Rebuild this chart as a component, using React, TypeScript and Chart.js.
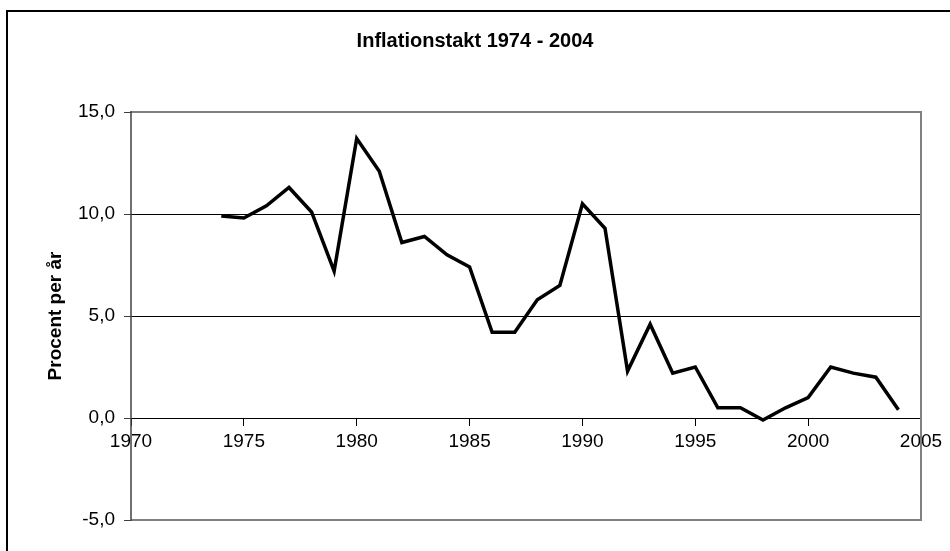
import React, { useEffect, useRef } from "react";
import { Chart, registerables } from "chart.js";

Chart.register(...registerables);

const chartTitle = "Inflationstakt 1974 - 2004";
const yAxisTitle = "Procent per år";
const years = [
  1974, 1975, 1976, 1977, 1978, 1979, 1980, 1981, 1982, 1983, 1984, 1985, 1986,
  1987, 1988, 1989, 1990, 1991, 1992, 1993, 1994, 1995, 1996, 1997, 1998, 1999,
  2000, 2001, 2002, 2003, 2004,
];
const inflation = [
  9.9, 9.8, 10.4, 11.3, 10.1, 7.2, 13.7, 12.1, 8.6, 8.9, 8.0, 7.4, 4.2, 4.2, 5.8,
  6.5, 10.5, 9.3, 2.3, 4.6, 2.2, 2.5, 0.5, 0.5, -0.1, 0.5, 1.0, 2.5, 2.2, 2.0, 0.4,
];
const xMin = 1970;
const xMax = 2005;
const xStep = 5;
const yMin = -5;
const yMax = 15;
const yStep = 5;

const FONT = "'Liberation Sans', Arial, sans-serif";

const framePlugin = {
  id: "frame",
  beforeDraw(chart: any) {
    const ctx = chart.ctx;
    ctx.save();
    ctx.fillStyle = "#ffffff";
    ctx.fillRect(0, 0, chart.width, chart.height);
    ctx.strokeStyle = "#000000";
    ctx.lineWidth = 2;
    ctx.beginPath();
    ctx.moveTo(7, chart.height);
    ctx.lineTo(7, 11);
    ctx.lineTo(chart.width, 11);
    ctx.stroke();
    ctx.restore();
  },
  beforeDatasetsDraw(chart: any) {
    const { left, right, top, bottom } = chart.chartArea;
    const ctx = chart.ctx;
    ctx.save();
    ctx.strokeStyle = "#808080";
    ctx.lineWidth = 2;
    ctx.beginPath();
    ctx.moveTo(left, top);
    ctx.lineTo(right, top);
    ctx.lineTo(right, bottom);
    ctx.lineTo(left, bottom);
    ctx.stroke();
    ctx.strokeStyle = "#404040";
    ctx.lineWidth = 1.5;
    ctx.beginPath();
    ctx.moveTo(left, top - 1);
    ctx.lineTo(left, bottom + 1);
    ctx.stroke();
    ctx.restore();
  },
};

export default function App() {
  const ref = useRef<HTMLCanvasElement>(null);
  useEffect(() => {
    document.body.style.margin = "0";
    const canvas = ref.current;
    if (!canvas) return;
    const chart = new Chart(canvas, {
      type: "line",
      data: {
        datasets: [
          {
            data: years.map((y, i) => ({ x: y, y: inflation[i] })),
            borderColor: "#000000",
            borderWidth: 3.5,
            pointRadius: 0,
            pointHoverRadius: 0,
            tension: 0,
            fill: false,
          },
        ],
      },
      plugins: [framePlugin],
      options: {
        responsive: false,
        animation: false,
        events: [],
        layout: { padding: { left: 29, right: 29, top: 0, bottom: 31 } },
        plugins: {
          legend: { display: false },
          tooltip: { enabled: false },
          title: {
            display: true,
            text: chartTitle,
            color: "#000000",
            font: { family: FONT, size: 20, weight: "bold" },
            padding: { top: 29, bottom: 59 },
          },
        },
        scales: {
          x: {
            type: "linear",
            min: xMin,
            max: xMax,
            position: { y: 0 },
            ticks: {
              stepSize: xStep,
              color: "#000000",
              padding: 5,
              maxRotation: 0,
              font: { family: FONT, size: 19 },
              callback: (v: any) => String(v),
            },
            grid: {
              drawOnChartArea: false,
              drawTicks: true,
              tickLength: 7,
              color: "#000000",
            },
            border: { display: true, color: "#000000", width: 1 },
          },
          y: {
            type: "linear",
            min: yMin,
            max: yMax,
            afterFit: (scale: any) => {
              scale.width = 102;
            },
            ticks: {
              stepSize: yStep,
              color: "#000000",
              padding: 9,
              font: { family: FONT, size: 19 },
              callback: (v: any) => Number(v).toFixed(1).replace(".", ","),
            },
            grid: {
              drawTicks: true,
              tickLength: 7,
              color: (c: any) =>
                c.tick && (c.tick.value === yMax || c.tick.value === yMin)
                  ? "rgba(0,0,0,0)"
                  : "#000000",
              tickColor: "#404040",
              lineWidth: 1,
            },
            border: { display: false },
            title: {
              display: true,
              text: yAxisTitle,
              color: "#000000",
              font: { family: FONT, size: 19, weight: "bold" },
              padding: { top: 15, bottom: 0 },
            },
          },
        },
      },
    });
    return () => chart.destroy();
  }, []);
  return (
    <div style={{ width: 950, height: 551 }}>
      <canvas ref={ref} width={950} height={551} style={{ display: "block" }} />
    </div>
  );
}
